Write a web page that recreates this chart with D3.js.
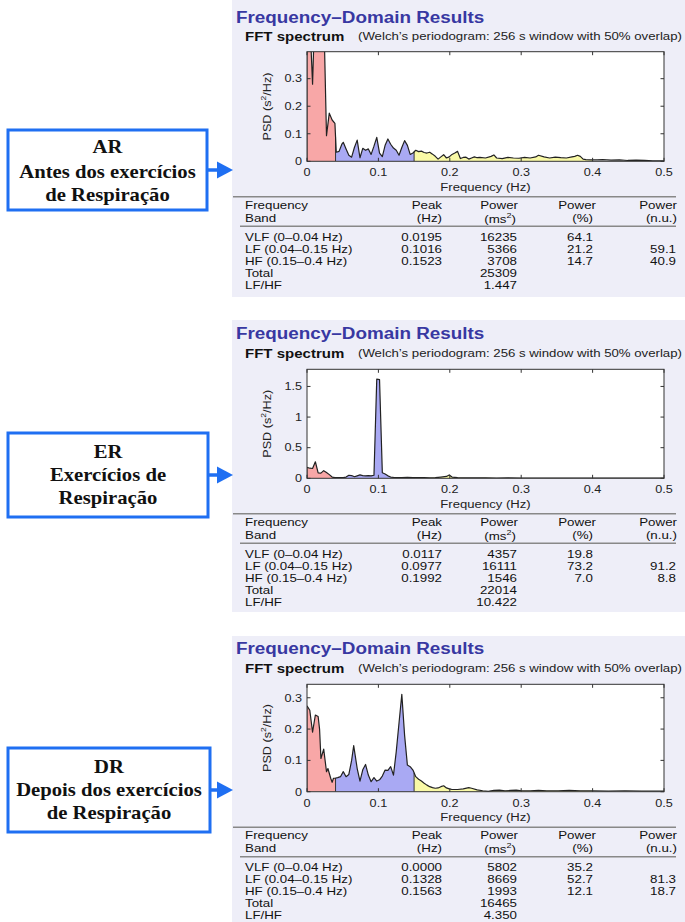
<!DOCTYPE html>
<html><head><meta charset="utf-8">
<script src="https://cdn.jsdelivr.net/npm/d3@7"></script>
<style>body{margin:0;background:#fff} svg{display:block}</style>
</head><body><svg id="c" width="685" height="922"></svg>
<script>
// ---------- data ----------
const bandEdges = [0, 0.04, 0.15, 0.4];
const xTicks = [0, 0.1, 0.2, 0.3, 0.4, 0.5];

const freqAR = [0,0.0039,0.0078,0.0117,0.0156,0.0195,0.0234,0.0273,0.0312,0.0352,0.0391,0.0410,0.0449,0.0488,0.0508,0.0547,0.0586,0.0625,0.0664,0.0703,0.0742,0.0781,0.0820,0.0859,0.0898,0.0938,0.0977,0.1016,0.1055,0.1094,0.1133,0.1172,0.1211,0.1250,0.1289,0.1328,0.1367,0.1406,0.1445,0.1484,0.1523,0.1563,0.1602,0.1641,0.1680,0.1719,0.1758,0.1797,0.1836,0.1875,0.1914,0.1953,0.1992,0.2031,0.2070,0.2109,0.2148,0.2188,0.2227,0.2266,0.2305,0.2344,0.2383,0.2422,0.2500,0.2578,0.2617,0.2656,0.2734,0.2813,0.2891,0.2969,0.3047,0.3125,0.3203,0.3242,0.3320,0.3398,0.3477,0.3555,0.3633,0.3711,0.3750,0.3789,0.3828,0.3867,0.3906,0.3984,0.4063,0.4141,0.4258,0.4375,0.4492,0.4609,0.4727,0.4844,0.5];
const psdAR  = [0.46,0.52,0.28,0.62,0.85,0.95,0.55,0.093,0.175,0.15,0.138,0.033,0.036,0.062,0.069,0.045,0.022,0.015,0.050,0.077,0.013,0.047,0.040,0.045,0.025,0.055,0.087,0.030,0.017,0.058,0.081,0.062,0.048,0.040,0.022,0.050,0.075,0.058,0.025,0.030,0.040,0.035,0.037,0.032,0.030,0.033,0.026,0.018,0.008,0.016,0.024,0.012,0.016,0.025,0.030,0.036,0.010,0.014,0.015,0.008,0.012,0.016,0.013,0.014,0.012,0.018,0.023,0.012,0.010,0.014,0.012,0.011,0.014,0.012,0.016,0.022,0.016,0.012,0.015,0.013,0.012,0.016,0.018,0.022,0.018,0.008,0.006,0.005,0.005,0.006,0.004,0.005,0.003,0.004,0.003,0.002,0.002];

const freqER = [0,0.0039,0.0078,0.0117,0.0156,0.0195,0.0234,0.0273,0.0313,0.0352,0.0391,0.0430,0.0469,0.0508,0.0547,0.0586,0.0625,0.0664,0.0703,0.0742,0.0781,0.0820,0.0859,0.0898,0.0938,0.0977,0.1016,0.1055,0.1094,0.1133,0.1172,0.1211,0.1250,0.1328,0.1406,0.1484,0.1563,0.1641,0.1719,0.1797,0.1875,0.1953,0.1992,0.2031,0.2109,0.2188,0.2344,0.2500,0.2656,0.2813,0.3000,0.3203,0.3398,0.3594,0.3789,0.4000,0.4297,0.4609,0.5];
const psdER  = [0.18,0.165,0.16,0.27,0.09,0.085,0.125,0.095,0.06,0.02,0.012,0.010,0.010,0.012,0.020,0.050,0.045,0.025,0.040,0.055,0.045,0.040,0.045,0.040,0.050,1.62,1.61,0.09,0.07,0.04,0.02,0.015,0.012,0.010,0.015,0.010,0.012,0.010,0.008,0.012,0.020,0.030,0.055,0.020,0.010,0.008,0.006,0.008,0.005,0.006,0.004,0.005,0.004,0.004,0.005,0.004,0.003,0.003,0.002];

const freqDR = [0,0.0039,0.0078,0.0117,0.0156,0.0176,0.0195,0.0234,0.0273,0.0293,0.0332,0.0352,0.0371,0.0391,0.0430,0.0469,0.0508,0.0547,0.0586,0.0625,0.0654,0.0703,0.0742,0.0781,0.0820,0.0859,0.0898,0.0938,0.0977,0.1016,0.1055,0.1094,0.1133,0.1172,0.1211,0.1250,0.1289,0.1328,0.1367,0.1406,0.1445,0.1484,0.1523,0.1563,0.1602,0.1641,0.1680,0.1719,0.1758,0.1797,0.1836,0.1875,0.1914,0.1953,0.1992,0.2031,0.2109,0.2188,0.2266,0.2305,0.2383,0.2461,0.2539,0.2617,0.2695,0.2773,0.2852,0.2930,0.3008,0.3125,0.3242,0.3359,0.3516,0.3672,0.3828,0.4000,0.4219,0.4453,0.4688,0.5];
const psdDR  = [0.274,0.26,0.19,0.245,0.24,0.20,0.106,0.136,0.064,0.074,0.043,0.030,0.043,0.043,0.045,0.048,0.064,0.048,0.055,0.100,0.147,0.074,0.034,0.070,0.087,0.053,0.032,0.045,0.034,0.038,0.050,0.069,0.068,0.080,0.053,0.128,0.220,0.311,0.180,0.085,0.080,0.069,0.048,0.040,0.034,0.027,0.021,0.016,0.013,0.011,0.012,0.016,0.019,0.012,0.009,0.007,0.007,0.009,0.013,0.011,0.006,0.003,0.001,0.004,0.005,0.003,0.004,0.005,0.003,0.003,0.004,0.003,0.003,0.004,0.003,0.003,0.002,0.003,0.002,0.002];

const yTicksAR = [0, 0.1, 0.2, 0.3];
const yTicksER = [0, 0.5, 1, 1.5];
const yTicksDR = [0, 0.1, 0.2, 0.3];

const bandLabels = ["VLF (0–0.04 Hz)", "LF (0.04–0.15 Hz)", "HF (0.15–0.4 Hz)", "Total", "LF/HF"];
const peakAR = ["0.0195", "0.1016", "0.1523"];
const powerAR = ["16235", "5366", "3708", "25309", "1.447"];
const pctAR = ["64.1", "21.2", "14.7"];
const nuAR = ["", "59.1", "40.9"];
const peakER = ["0.0117", "0.0977", "0.1992"];
const powerER = ["4357", "16111", "1546", "22014", "10.422"];
const pctER = ["19.8", "73.2", "7.0"];
const nuER = ["", "91.2", "8.8"];
const peakDR = ["0.0000", "0.1328", "0.1563"];
const powerDR = ["5802", "8669", "1993", "16465", "4.350"];
const pctDR = ["35.2", "52.7", "12.1"];
const nuDR = ["", "81.3", "18.7"];

const boxCodes = ["AR", "ER", "DR"];
const boxLines = [["Antes dos exercícios", "de Respiração"], ["Exercícios de", "Respiração"], ["Depois dos exercícios", "de Respiração"]];

// ---------- style / layout ----------
const SANS = "'Liberation Sans', Arial, Helvetica, sans-serif";
const SERIF = "'Liberation Serif', 'Times New Roman', serif";
const bandColors = ["#f8a7a7", "#a9a9f3", "#f9f9a6"];
const blue = "#1f6ff2";

const panels = [
  {freq: freqAR, psd: psdAR, yMax: 0.398, yTicks: yTicksAR, bg: [0, 297], title: 17, fft: 36, top: 51.7, bottom: 161.3,
   peak: peakAR, power: powerAR, pct: pctAR, nu: nuAR},
  {freq: freqER, psd: psdER, yMax: 1.78, yTicks: yTicksER, bg: [320, 612], title: 333, fft: 353, top: 369.3, bottom: 478.3,
   peak: peakER, power: powerER, pct: pctER, nu: nuER},
  {freq: freqDR, psd: psdDR, yMax: 0.343, yTicks: yTicksDR, bg: [636, 922], title: 648, fft: 668, top: 684.3, bottom: 791.7,
   peak: peakDR, power: powerDR, pct: pctDR, nu: nuDR}
];
const boxes = [
  {x0: 8, x1: 207, y0: 130, y1: 210, lines: [147, 172, 195], arrowY: 170},
  {x0: 8, x1: 208, y0: 433, y1: 517, lines: [452, 475, 498], arrowY: 475},
  {x0: 8, x1: 210, y0: 748, y1: 832, lines: [767, 790, 813], arrowY: 790}
];

const svg = d3.select("#c");
const PL = 307, PR = 664;

function interp(fs, vs, f) {
  for (let i = 0; i < fs.length - 1; i++) {
    if (f >= fs[i] && f <= fs[i + 1]) {
      const t = (f - fs[i]) / (fs[i + 1] - fs[i]);
      return vs[i] + t * (vs[i + 1] - vs[i]);
    }
  }
  return vs[vs.length - 1];
}

function txt(g, x, y, s, o = {}) {
  const sx = o.sx || 1.13;
  return g.append("text").attr("transform", `translate(${x},${y}) scale(${sx},1)`).text(s)
    .attr("font-family", o.family || SANS).attr("font-size", o.size || 11.5)
    .attr("font-weight", o.weight || "normal").attr("fill", o.fill || "#111")
    .attr("text-anchor", o.anchor || "start").attr("dominant-baseline", "central");
}
function supTxt(g, x, y, pre, sup, post, o = {}) {
  const t = g.append("text").attr("transform", o.transform || `translate(${x},${y}) scale(${o.sx || 1.13},1)`)
    .attr("font-family", SANS).attr("font-size", o.size || 11.5).attr("fill", o.fill || "#111")
    .attr("text-anchor", o.anchor || "middle").attr("dominant-baseline", "central");
  t.append("tspan").text(pre);
  t.append("tspan").text(sup).attr("font-size", (o.size || 11.5) * 0.68).attr("dy", -4);
  t.append("tspan").text(post).attr("dy", 4);
  return t;
}

panels.forEach((p, pi) => {
  const g = svg.append("g");
  g.append("rect").attr("x", 232).attr("y", p.bg[0]).attr("width", 685 - 232).attr("height", p.bg[1] - p.bg[0]).attr("fill", "#eeeef8");

  txt(g, 236, p.title, "Frequency–Domain Results", {size: 17, weight: "bold", fill: "#3838a2", sx: 1.11});
  txt(g, 245, p.fft, "FFT spectrum", {size: 13.3, weight: "bold", fill: "#111", sx: 1.13});
  txt(g, 358, p.fft, "(Welch’s periodogram: 256 s window with 50% overlap)", {size: 11.5, fill: "#222", sx: 1.15});

  const x = d3.scaleLinear().domain([0, 0.5]).range([PL, PR]);
  const y = d3.scaleLinear().domain([0, p.yMax]).range([p.bottom, p.top]);

  g.append("rect").attr("x", PL).attr("y", p.top).attr("width", PR - PL).attr("height", p.bottom - p.top).attr("fill", "#fff");

  const clipId = "clip" + pi;
  g.append("clipPath").attr("id", clipId).append("rect")
    .attr("x", PL).attr("y", p.top).attr("width", PR - PL).attr("height", p.bottom - p.top);
  const pg = g.append("g").attr("clip-path", `url(#${clipId})`);

  const pts = p.freq.map((f, i) => [f, p.psd[i]]);
  const area = d3.area().x(d => x(d[0])).y0(y(0)).y1(d => y(d[1]));
  for (let b = 0; b < 3; b++) {
    const lo = bandEdges[b], hi = bandEdges[b + 1];
    const seg = [[lo, interp(p.freq, p.psd, lo)]]
      .concat(pts.filter(d => d[0] > lo && d[0] < hi))
      .concat([[hi, interp(p.freq, p.psd, hi)]]);
    pg.append("path").attr("d", area(seg)).attr("fill", bandColors[b]);
    pg.append("line").attr("x1", x(lo)).attr("x2", x(lo)).attr("y1", y(0)).attr("y2", y(Math.min(interp(p.freq, p.psd, lo), p.yMax * 1.2)))
      .attr("stroke", "#333").attr("stroke-width", 1);
  }
  pg.append("path").attr("d", d3.line().x(d => x(d[0])).y(d => y(d[1]))(pts))
    .attr("fill", "none").attr("stroke", "#222").attr("stroke-width", 1.2).attr("stroke-linejoin", "round");

  // axes box with inward ticks
  const ax = g.append("g").attr("stroke", "#333").attr("stroke-width", 1);
  ax.append("rect").attr("x", PL).attr("y", p.top).attr("width", PR - PL).attr("height", p.bottom - p.top).attr("fill", "none");
  xTicks.forEach(t => {
    ax.append("line").attr("x1", x(t)).attr("x2", x(t)).attr("y1", p.bottom).attr("y2", p.bottom - 3.5);
    ax.append("line").attr("x1", x(t)).attr("x2", x(t)).attr("y1", p.top).attr("y2", p.top + 3.5);
    txt(g, x(t), p.bottom + 11, d3.format("~g")(t), {size: 11.5, anchor: "middle", fill: "#222", sx: 1.1});
  });
  p.yTicks.forEach(t => {
    ax.append("line").attr("x1", PL).attr("x2", PL + 3.5).attr("y1", y(t)).attr("y2", y(t));
    ax.append("line").attr("x1", PR).attr("x2", PR - 3.5).attr("y1", y(t)).attr("y2", y(t));
    txt(g, PL - 5, y(t), d3.format("~g")(t), {size: 11.5, anchor: "end", fill: "#222", sx: 1.1});
  });
  txt(g, (PL + PR) / 2, p.bottom + 25.5, "Frequency (Hz)", {size: 11.5, anchor: "middle", fill: "#222", sx: 1.14});
  supTxt(g, 0, 0, "PSD (s", "2", "/Hz)", {transform: `translate(267,${(p.top + p.bottom) / 2}) rotate(-90) scale(1.1,1)`, fill: "#222"});

  // table
  const r = p.bottom + 35.5;
  g.append("line").attr("x1", 233).attr("x2", 676).attr("y1", r).attr("y2", r).attr("stroke", "#888").attr("stroke-width", 1.6);
  g.append("line").attr("x1", 240).attr("x2", 676).attr("y1", r + 29.5).attr("y2", r + 29.5).attr("stroke", "#888").attr("stroke-width", 1.6);
  const h1 = r + 8.5, h2 = r + 21;
  const ts = 11.8, tsx = 1.13;
  const o = (a) => ({size: ts, sx: tsx, anchor: a});
  txt(g, 245, h1, "Frequency", o("start"));
  txt(g, 245, h2, "Band", o("start"));
  txt(g, 442, h1, "Peak", o("end"));
  txt(g, 442, h2, "(Hz)", o("end"));
  txt(g, 518, h1, "Power", o("end"));
  supTxt(g, 516, h2 + 1, "(ms", "2", ")", {size: ts, sx: tsx, anchor: "end"});
  txt(g, 596, h1, "Power", o("end"));
  txt(g, 593, h2, "(%)", o("end"));
  txt(g, 677, h1, "Power", o("end"));
  txt(g, 677, h2, "(n.u.)", o("end"));
  bandLabels.forEach((lab, i) => {
    const ry = r + 40.5 + i * 12;
    txt(g, 245, ry, lab, o("start"));
    if (i < 3) {
      txt(g, 442, ry, p.peak[i], o("end"));
      txt(g, 593, ry, p.pct[i], o("end"));
      if (p.nu[i]) txt(g, 676, ry, p.nu[i], o("end"));
    }
    txt(g, 517, ry, p.power[i], o("end"));
  });
});

// left boxes and arrows
boxes.forEach((b, i) => {
  const g = svg.append("g");
  g.append("rect").attr("x", b.x0).attr("y", b.y0).attr("width", b.x1 - b.x0).attr("height", b.y1 - b.y0)
    .attr("fill", "#fff").attr("stroke", blue).attr("stroke-width", 3);
  const cx = (b.x0 + b.x1) / 2;
  const lines = [boxCodes[i]].concat(boxLines[i]);
  lines.forEach((s, k) => txt(g, cx, b.lines[k], s, {family: SERIF, size: 18, weight: "bold", anchor: "middle", fill: "#111", sx: 1.15}));
  g.append("line").attr("x1", b.x1).attr("x2", 219).attr("y1", b.arrowY).attr("y2", b.arrowY).attr("stroke", blue).attr("stroke-width", 3.5);
  g.append("path").attr("d", `M217,${b.arrowY - 8.5} L233,${b.arrowY} L217,${b.arrowY + 8.5} Z`).attr("fill", blue);
});
</script>
</body></html>
